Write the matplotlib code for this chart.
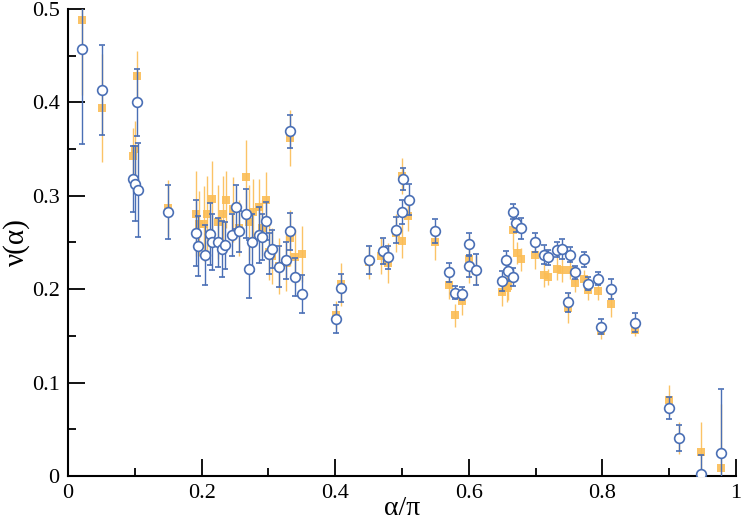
import matplotlib
matplotlib.use("Agg")
import matplotlib.pyplot as plt
from matplotlib.ticker import MultipleLocator, FuncFormatter

# Blue (open circles) series: x = alpha/pi, value, error
blue_x = [0.021, 0.051, 0.098, 0.100, 0.103, 0.105, 0.150,
          0.192, 0.195, 0.205, 0.212, 0.215, 0.225, 0.231, 0.235, 0.246, 0.251,
          0.256, 0.266, 0.271, 0.276, 0.286, 0.291, 0.296, 0.301, 0.306, 0.316,
          0.326, 0.332, 0.333, 0.340, 0.351,
          0.401, 0.408, 0.451, 0.471, 0.479, 0.491, 0.500, 0.501, 0.510,
          0.550, 0.570, 0.580, 0.590, 0.601, 0.601, 0.610,
          0.649, 0.655, 0.659, 0.666, 0.666, 0.671, 0.678, 0.699, 0.712, 0.719,
          0.732, 0.739, 0.752, 0.759, 0.749, 0.773, 0.779, 0.793, 0.798, 0.813,
          0.848, 0.899, 0.915, 0.948, 0.978]
blue_y = [0.457, 0.413, 0.318, 0.313, 0.400, 0.306, 0.283,
          0.260, 0.246, 0.237, 0.259, 0.251, 0.250, 0.243, 0.247, 0.258, 0.288,
          0.262, 0.281, 0.222, 0.250, 0.258, 0.256, 0.273, 0.238, 0.243, 0.224,
          0.231, 0.262, 0.369, 0.213, 0.195,
          0.168, 0.201, 0.231, 0.241, 0.234, 0.263, 0.283, 0.318, 0.296,
          0.262, 0.218, 0.196, 0.195, 0.248, 0.225, 0.221,
          0.209, 0.231, 0.219, 0.213, 0.283, 0.271, 0.265, 0.250, 0.237, 0.234,
          0.242, 0.243, 0.237, 0.218, 0.186, 0.232, 0.206, 0.211, 0.160, 0.200,
          0.164, 0.073, 0.041, 0.002, 0.025]
blue_err = [0.102, 0.048, 0.035, 0.040, 0.036, 0.050, 0.029,
            0.035, 0.032, 0.032, 0.033, 0.030, 0.026, 0.030, 0.025, 0.022, 0.024,
            0.022, 0.026, 0.031, 0.030, 0.030, 0.025, 0.020, 0.022, 0.020, 0.022,
            0.020, 0.020, 0.018, 0.020, 0.020,
            0.015, 0.015, 0.015, 0.014, 0.012, 0.014, 0.013, 0.012, 0.017,
            0.013, 0.010, 0.007, 0.007, 0.012, 0.012, 0.017,
            0.011, 0.010, 0.010, 0.010, 0.008, 0.010, 0.011, 0.010, 0.010, 0.008,
            0.008, 0.011, 0.008, 0.007, 0.010, 0.008, 0.007, 0.007, 0.008, 0.011,
            0.010, 0.012, 0.014, 0.020, 0.068]

# Orange (filled squares) series
orange_x = [0.021, 0.051, 0.098, 0.101, 0.103, 0.150,
            0.192, 0.196, 0.203, 0.2075, 0.215, 0.225, 0.2315, 0.236, 0.2465, 0.256,
            0.2665, 0.2715, 0.2765, 0.286, 0.291, 0.296, 0.301, 0.306, 0.316, 0.326,
            0.332, 0.333, 0.340, 0.351,
            0.401, 0.408, 0.451, 0.469, 0.479, 0.491, 0.4995, 0.5005, 0.5095,
            0.550, 0.570, 0.580, 0.590, 0.601, 0.610,
            0.649, 0.657, 0.659, 0.6655, 0.6715, 0.678, 0.699, 0.712, 0.719,
            0.732, 0.739, 0.752, 0.759, 0.749, 0.773, 0.779, 0.793, 0.798, 0.813,
            0.848, 0.899, 0.915, 0.948, 0.978]
orange_y = [0.488, 0.394, 0.343, 0.350, 0.428, 0.287,
            0.281, 0.270, 0.270, 0.281, 0.297, 0.272, 0.281, 0.296, 0.2855, 0.265,
            0.320, 0.2715, 0.283, 0.288, 0.266, 0.295, 0.240, 0.236, 0.225, 0.228,
            0.255, 0.362, 0.234, 0.238,
            0.172, 0.2055, 0.229, 0.236, 0.228, 0.260, 0.2513, 0.3212, 0.2787,
            0.250, 0.204, 0.172, 0.187, 0.232, 0.220,
            0.197, 0.201, 0.203, 0.263, 0.239, 0.232, 0.237, 0.215, 0.213,
            0.222, 0.221, 0.221, 0.207, 0.180, 0.211, 0.199, 0.198, 0.155, 0.184,
            0.156, 0.081, 0.041, 0.026, 0.009]
orange_err = [0.080, 0.058, 0.030, 0.030, 0.027, 0.030,
              0.046, 0.035, 0.040, 0.040, 0.040, 0.040, 0.040, 0.030, 0.035, 0.030,
              0.040, 0.040, 0.035, 0.030, 0.030, 0.030, 0.030, 0.030, 0.030, 0.030,
              0.030, 0.030, 0.030, 0.030,
              0.015, 0.023, 0.018, 0.020, 0.021, 0.020, 0.018, 0.019, 0.016,
              0.019, 0.015, 0.012, 0.015, 0.025, 0.015,
              0.015, 0.015, 0.015, 0.020, 0.012, 0.012, 0.015, 0.013, 0.009,
              0.012, 0.013, 0.010, 0.010, 0.016, 0.010, 0.011, 0.010, 0.008, 0.014,
              0.006, 0.016, 0.017, 0.032, 0.068]

x_ticks = [0, 0.2, 0.4, 0.6, 0.8, 1.0]
y_ticks = [0, 0.1, 0.2, 0.3, 0.4, 0.5]

plt.rcParams['font.family'] = ['Liberation Serif', 'DejaVu Serif']
plt.rcParams['mathtext.fontset'] = 'stix'

fig = plt.figure(figsize=(7.42, 5.28), dpi=100)
ax = fig.add_axes([0.0916, 0.0985, 0.9004, 0.8845])

orange = '#fbbd55'
blue = '#4a6fb5'

ax.errorbar(orange_x, orange_y, yerr=orange_err, fmt='s', color=orange,
            markersize=6, markeredgewidth=0, ecolor=orange, elinewidth=1.0,
            capsize=2.0, capthick=1.0, alpha=0.9, zorder=2, clip_on=True)
ax.errorbar(blue_x, blue_y, yerr=blue_err, fmt='o', color=blue,
            markerfacecolor='white', markeredgecolor=blue, markeredgewidth=1.2,
            markersize=7, ecolor=blue, elinewidth=1.0, capsize=2.0, capthick=1.0,
            zorder=3, clip_on=True)

ax.set_xlim(0, 1)
ax.set_ylim(0, 0.5)
ax.set_xticks(x_ticks)
ax.set_yticks(y_ticks)
ax.xaxis.set_minor_locator(MultipleLocator(0.1))
ax.yaxis.set_minor_locator(MultipleLocator(0.05))
fmt = FuncFormatter(lambda v, p: '%g' % round(v, 3))
ax.xaxis.set_major_formatter(fmt)
ax.yaxis.set_major_formatter(fmt)
ax.tick_params(which='major', direction='in', length=12, width=1.3, labelsize=16, pad=6)
ax.tick_params(which='minor', direction='in', length=6, width=1.3)
ax.tick_params(axis='x', which='both', top=False)
ax.tick_params(axis='y', which='both', right=False)
ax.spines['top'].set_visible(False)
ax.spines['right'].set_visible(False)
for s in ('left', 'bottom'):
    ax.spines[s].set_linewidth(1.5)

ax.set_xlabel('α/π', fontsize=20, labelpad=-5)
ax.set_ylabel('ν(α)', fontsize=21, labelpad=1)

fig.savefig('out.png', dpi=100)
